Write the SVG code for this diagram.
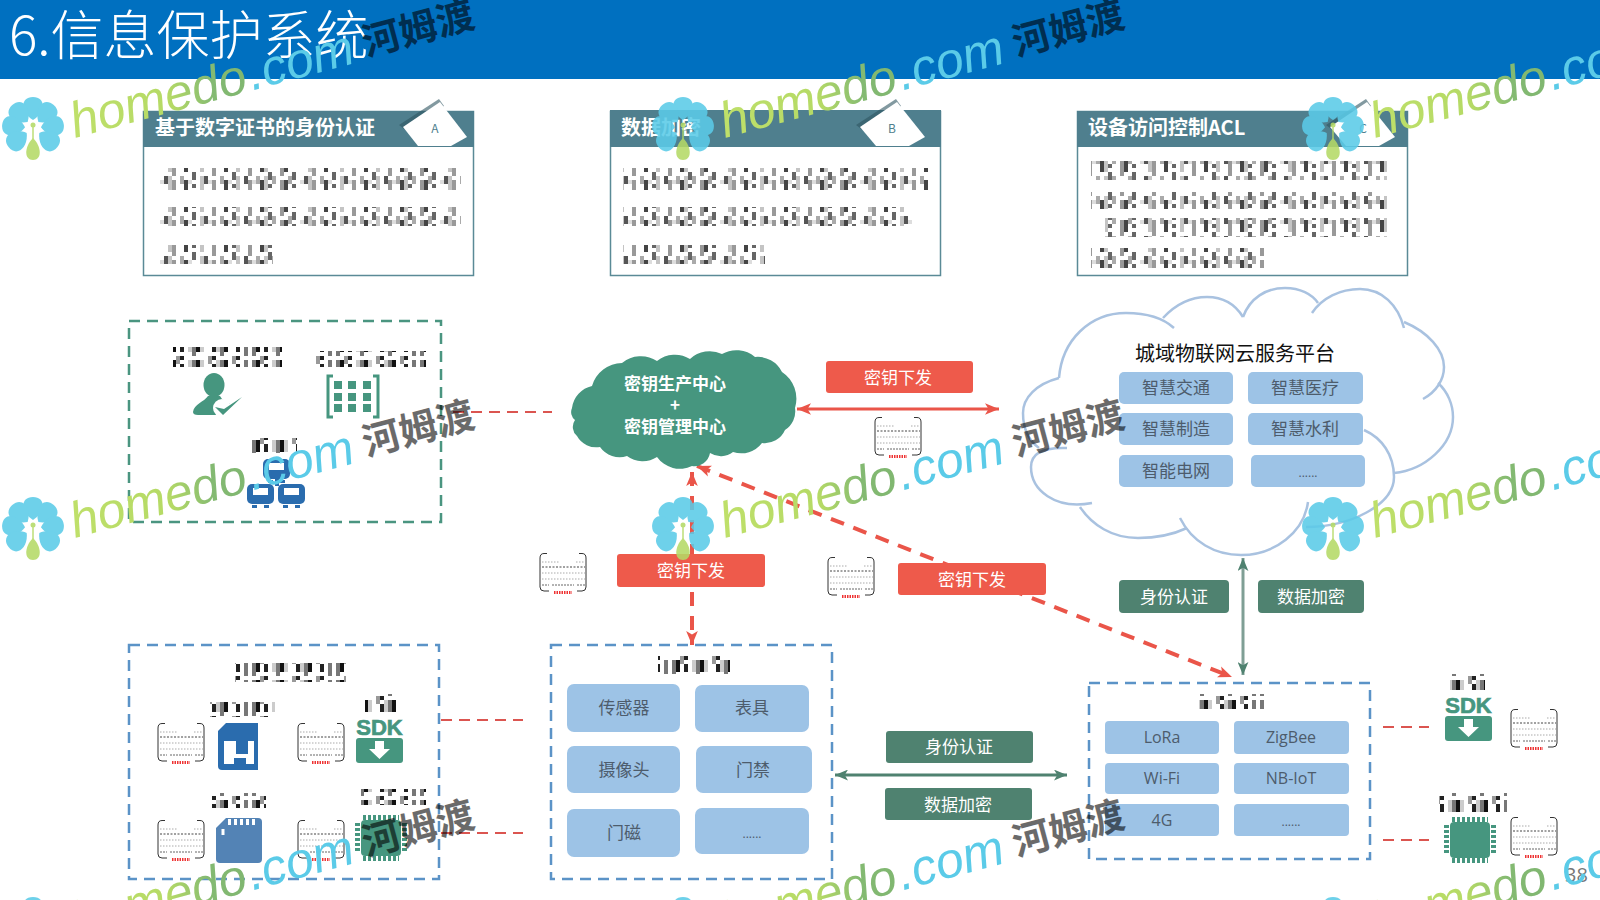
<svg xmlns="http://www.w3.org/2000/svg" width="1600" height="900" viewBox="0 0 1600 900">
<style>
text{font-family:"Noto Sans CJK SC","Liberation Sans",sans-serif}
.mid{text-anchor:middle}
.title{font-size:53px;font-weight:300;fill:#fff}
.chead{font-size:20px;font-weight:700;fill:#fff}
.badge{font-size:12px;fill:#4f7f8e;text-anchor:middle}
.cbox{fill:#fff;stroke:#5a8a96;stroke-width:1.5}
.chdr{fill:#4f7f8e}
.bshadow{fill:#2f5560;opacity:.6}
.bt{font-size:17px;fill:#fff;text-anchor:middle}
.red{fill:#ee5a4b}
.grn{fill:#4f8270}
.tile{fill:#9dc3e6}
.tt{font-size:17px;fill:#4d5c6c;text-anchor:middle}
.lat{font-size:16px;fill:#4d5c6c;text-anchor:middle;font-family:"Open Sans","Noto Sans",sans-serif}
.dg{fill:none;stroke:#4a9580;stroke-width:2.5;stroke-dasharray:11 7}
.db{fill:none;stroke:#5b93c7;stroke-width:2.5;stroke-dasharray:11 7}
.rd{fill:none;stroke:#db5550;stroke-width:2;stroke-dasharray:11 7}
.rdt{fill:none;stroke:#ea5549;stroke-width:4;stroke-dasharray:14 10}
.gi{fill:#46967f}
.bi{fill:#2a6cae}
.cl{fill:none;stroke:#a9c2e0;stroke-width:2.5}
</style>
<defs>
<marker id="ar" viewBox="0 0 12 10" refX="12" refY="5" markerWidth="14" markerHeight="12" markerUnits="userSpaceOnUse" orient="auto-start-reverse"><path d="M0 0L12 5L0 10L3 5z" fill="#ea5549"/></marker>
<marker id="ag" viewBox="0 0 12 10" refX="12" refY="5" markerWidth="13" markerHeight="11" markerUnits="userSpaceOnUse" orient="auto-start-reverse"><path d="M0 0L12 5L0 10L3 5z" fill="#4f8270"/></marker>
<pattern id="m1" width="140" height="20" patternUnits="userSpaceOnUse"><g fill="none" stroke-width="4">
<path d="M6 0V20M46 0V20M86 0V20M122 0V20" stroke="#444" stroke-dasharray="12 8"/>
<path d="M26 0V20M66 0V20M106 0V20" stroke="#555" stroke-dasharray="4 12 4"/>
<path d="M14 0V20M54 0V20M94 0V20M130 0V20" stroke="#666" stroke-dasharray="8 4 4 4" stroke-dashoffset="8"/>
<path d="M2 0V20M34 0V20M74 0V20M110 0V20" stroke="#999" stroke-dasharray="16 4"/>
<path d="M10 0V20M42 0V20M82 0V20M118 0V20M134 0V20" stroke="#aaa" stroke-dasharray="8 12" stroke-dashoffset="4"/>
<path d="M30 0V20M62 0V20M98 0V20M126 0V20" stroke="#c4c4c4" stroke-dasharray="12 4 4"/>
<path d="M22 0V20M50 0V20M70 0V20M90 0V20M114 0V20" stroke="#ddd" stroke-dasharray="4 16"/>
</g></pattern>
<pattern id="m2" width="84" height="20" patternUnits="userSpaceOnUse"><g fill="none" stroke-width="4">
<path d="M6 0V20M30 0V20M58 0V20" stroke="#111" stroke-dasharray="12 8"/>
<path d="M14 0V20M46 0V20M70 0V20" stroke="#222" stroke-dasharray="4 4 8 4" stroke-dashoffset="4"/>
<path d="M2 0V20M26 0V20M54 0V20M78 0V20" stroke="#777" stroke-dasharray="16 4"/>
<path d="M10 0V20M42 0V20M66 0V20" stroke="#999" stroke-dasharray="8 12" stroke-dashoffset="4"/>
<path d="M22 0V20M34 0V20M50 0V20" stroke="#ccc" stroke-dasharray="12 8"/>
</g></pattern>
<g id="key">
<path d="M8 .5H5Q1 .5 1 5V34Q1 38 5 38H10M40 .5H43Q47 .5 47 5V34Q47 38 43 38H38" fill="none" stroke="#333" stroke-width="1"/>
<path d="M3 9H20M37 9H46M3 20H46M3 26H46" stroke="#aaa" stroke-width="1" stroke-dasharray="1.5 1.5"/>
<path d="M3 14H46" stroke="#444" stroke-width="1" stroke-dasharray="2 1.5"/>
<path d="M3 32H10M13 32H35M38 32H46" stroke="#666" stroke-width="1" stroke-dasharray="2 1"/>
<path d="M15 39.5H33" stroke="#e33" stroke-width="3" stroke-dasharray="1.500 1"/>
</g>
<g id="sdk">
<text x="23.500" y="18" text-anchor="middle" style="font-family:'Liberation Sans',sans-serif;font-size:22px;font-weight:700" fill="#46967f" stroke="#46967f" stroke-width=".7">SDK</text>
<rect y="21" width="47" height="25" rx="3" class="gi"/>
<path d="M19 24H28V32H34L23.500 42L13 32H19z" fill="#fff"/>
</g>
<g id="chip">
<rect x="6" y="5" width="40" height="36" rx="4" class="gi"/>
<path d="M8 2.500H44M8 43.500H44" stroke="#46967f" stroke-width="5" stroke-dasharray="3 2"/>
<path d="M2.500 8V38M49.500 8V38" stroke="#46967f" stroke-width="5" stroke-dasharray="3 2"/>
</g>
<g id="mon">
<rect width="27" height="20" rx="5" class="bi"/>
<rect x="6" y="4" width="15" height="7" fill="#fff"/>
<path d="M5 21h5v3h-5zM17 21h5v3h-5z" class="bi"/>
</g>
<linearGradient id="wg" gradientUnits="userSpaceOnUse" x1="0" y1="0" x2="185" y2="0">
<stop offset="0" stop-color="#bfe06a"/><stop offset=".55" stop-color="#b5da66"/><stop offset=".78" stop-color="#84ba72"/><stop offset="1" stop-color="#7fb670"/>
</linearGradient>
<path id="pet" d="M0-8C-13-16-13-31 0-31C13-31 13-16 0-8z" fill="#5bcbe8"/>
<g id="wm">
<g opacity=".88">
<use href="#pet"/><use href="#pet" transform="rotate(42)"/><use href="#pet" transform="rotate(84)"/><use href="#pet" transform="rotate(128)"/><use href="#pet" transform="rotate(-42)"/><use href="#pet" transform="rotate(-84)"/><use href="#pet" transform="rotate(-128)"/>
<path d="M0 10C-9 19-9 32 0 32C9 32 9 19 0 10z" fill="#b5da66"/>
<path d="M0-3V12" stroke="#b5da66" stroke-width="1.500"/><circle cy="-3" r="2.500" fill="#b5da66"/>
</g>
<text transform="translate(42 10) rotate(-15)" style="font-family:'Liberation Sans',sans-serif;font-style:italic;font-size:50px"><tspan fill="url(#wg)">homedo</tspan><tspan dx="3" fill="#5bcbe8">.com</tspan></text>
<text transform="translate(385 -100) rotate(-15)" y="14" text-anchor="middle" style="font-size:38px;font-weight:700" fill="#000" opacity=".58">河姆渡</text>
</g>
</defs>

<rect width="1600" height="900" fill="#fff"/>
<g id="header">
<rect width="1600" height="79" fill="#0070c0"/>
<text x="9" y="55" class="title">6.信息保护系统</text>
</g>

<g id="connectors">
<path class="rd" d="M453 412H552"/>
<path class="rd" d="M441 720H523"/>
<path class="rd" d="M441 833H523"/>
<path class="rd" d="M1383 727H1429"/>
<path class="rd" d="M1383 840H1429"/>
<path d="M797 409H999" stroke="#ea5549" stroke-width="3" fill="none" marker-start="url(#ar)" marker-end="url(#ar)"/>
<path class="rdt" d="M692 472V645" marker-start="url(#ar)" marker-end="url(#ar)"/>
<path class="rdt" d="M697 466L1232 677" marker-start="url(#ar)" marker-end="url(#ar)"/>
<path d="M1243 558V675" stroke="#7f9f95" stroke-width="3" fill="none" marker-start="url(#ag)" marker-end="url(#ag)"/>
<path d="M835 775H1067" stroke="#4f8270" stroke-width="3" fill="none" marker-start="url(#ag)" marker-end="url(#ag)"/>
</g>

<g id="card-a">
<rect class="cbox" x="143.500" y="111.500" width="330" height="164"/>
<rect class="chdr" x="143" y="111" width="331" height="36"/>
<text x="155" y="135" class="chead">基于数字证书的身份认证</text>
<path class="bshadow" d="M399 125L439 99L444 106L408 132z"/>
<path d="M403 127L440 102L467 137L451 146H418z" fill="#fff"/>
<text x="435" y="133" class="badge">A</text>
<rect x="156" y="168" width="305" height="22" fill="url(#m1)"/>
<rect x="156" y="207" width="305" height="19" fill="url(#m1)"/>
<rect x="156" y="245" width="117" height="19" fill="url(#m1)"/>
</g>
<g id="card-b">
<rect class="cbox" x="610.500" y="111.500" width="330" height="164"/>
<rect class="chdr" x="610" y="110" width="331" height="37"/>
<text x="621" y="135" class="chead">数据加密</text>
<path class="bshadow" d="M856 125L896 99L901 106L865 132z"/>
<path d="M860 127L897 102L925 137L909 146H876z" fill="#fff"/>
<text x="892" y="133" class="badge">B</text>
<rect x="623" y="168" width="305" height="22" fill="url(#m1)"/>
<rect x="623" y="207" width="289" height="19" fill="url(#m1)"/>
<rect x="623" y="245" width="142" height="19" fill="url(#m1)"/>
</g>
<g id="card-c">
<rect class="cbox" x="1077.500" y="111.500" width="330" height="164"/>
<rect class="chdr" x="1077" y="111" width="331" height="36"/>
<text x="1088" y="135" class="chead">设备访问控制ACL</text>
<path class="bshadow" d="M1326 125L1366 99L1371 106L1335 132z"/>
<path d="M1330 127L1367 102L1395 137L1379 146H1346z" fill="#fff"/>
<text x="1363" y="133" class="badge">C</text>
<rect x="1091" y="161" width="296" height="19" fill="url(#m1)"/>
<rect x="1091" y="192" width="296" height="17" fill="url(#m1)"/>
<rect x="1105" y="218" width="282" height="19" fill="url(#m1)"/>
<rect x="1091" y="248" width="173" height="20" fill="url(#m1)"/>
</g>

<g id="auth-box">
<rect class="dg" x="129" y="321" width="312" height="201"/>
<rect x="173" y="347" width="109" height="20" fill="url(#m2)"/>
<rect x="316" y="351" width="110" height="16" fill="url(#m2)"/>
<rect x="250" y="438" width="47" height="15" fill="url(#m2)"/>
<g id="person-icon">
<ellipse cx="214" cy="385" rx="10.500" ry="12" class="gi"/>
<path d="M193 412C194 404 204 402 208 396H220C222 400 226 402 230 404L222 415H198Q193 415 193 412z" class="gi"/>
<circle cx="222" cy="408" r="9" fill="#fff"/>
<path d="M215 407L223 415L242 397L224 409z" class="gi"/>
</g>
<g id="bracket-icon">
<path d="M333 376H328V417H333M373 376H378V417H373" fill="none" stroke="#46967f" stroke-width="3"/>
<path d="M334 381h8v8h-8zM348 381h8v8h-8zM363 381h8v8h-8zM334 393h8v8h-8zM348 393h8v8h-8zM363 393h8v8h-8zM334 404h8v8h-8zM348 404h8v8h-8zM363 404h8v8h-8z" class="gi"/>
</g>
<g id="network-icon">
<use href="#mon" x="263" y="459"/>
<path d="M277 478V486" stroke="#2a6cae" stroke-width="4"/>
<use href="#mon" x="247" y="484"/>
<use href="#mon" x="278" y="484"/>
</g>
</g>

<g id="key-center">
<path class="gi" d="M572 408A26 26 0 0 1 592 386A32 32 0 0 1 622 363A30 30 0 0 1 657 361A29 29 0 0 1 690 359A29 29 0 0 1 722 354A29 29 0 0 1 755 357A27 27 0 0 1 782 372A32 32 0 0 1 795 408A22 22 0 0 1 785 430A22 22 0 0 1 762 443A26 26 0 0 1 733 452A20 20 0 0 1 710 453A16 16 0 0 1 692 466A28 28 0 0 1 657 457A26 26 0 0 1 627 456A24 24 0 0 1 600 447A22 22 0 0 1 577 436A12 12 0 0 1 575 420A10 10 0 0 1 572 408z"/>
<text x="675" y="390" class="bt" style="font-weight:700">密钥生产中心</text>
<text x="675" y="411" class="bt" style="font-weight:700">+</text>
<text x="675" y="433" class="bt" style="font-weight:700">密钥管理中心</text>
</g>

<g id="label-key-1"><rect class="red" x="826" y="361" width="147" height="32" rx="3"/><text x="898" y="384" class="bt">密钥下发</text></g>
<g id="label-key-2"><rect class="red" x="617" y="554" width="148" height="33" rx="3"/><text x="691" y="577" class="bt">密钥下发</text></g>
<g id="label-key-3"><rect class="red" x="898" y="563" width="148" height="32" rx="3"/><text x="972" y="586" class="bt">密钥下发</text></g>

<g id="keys">
<use href="#key" x="874" y="417"/><use href="#key" x="539" y="553"/><use href="#key" x="827" y="557"/>
<use href="#key" x="157" y="723"/><use href="#key" x="297" y="723"/><use href="#key" x="157" y="820"/><use href="#key" x="297" y="820"/>
<use href="#key" x="1510" y="709"/><use href="#key" x="1510" y="817"/>
</g>

<g id="cloud-platform">
<path fill="#fff" d="M1059 378C1062 340 1090 313 1126 313C1140 313 1155 316 1168 322C1175 305 1190 297 1207 297C1222 297 1235 304 1243 317C1250 298 1266 288 1285 288C1300 288 1312 294 1318 303C1328 294 1343 289 1360 289C1380 289 1398 305 1404 325C1428 335 1444 352 1444 367C1444 372 1443 378 1438 383C1448 392 1453 405 1453 417C1453 445 1425 470 1394 473C1394 505 1350 527 1306 527C1292 545 1268 555 1241 555C1218 555 1198 545 1187 528C1172 535 1155 538 1138 538C1112 538 1092 525 1080 507C1050 505 1031 490 1031 467C1031 458 1034 453 1039 448C1028 440 1023 428 1023 413C1023 398 1036 384 1059 378z"/>
<path class="cl" d="M1059 378C1062 340 1090 313 1126 313C1145 313 1163 318 1174 328"/>
<path class="cl" d="M1163 318C1175 305 1190 297 1207 297C1222 297 1235 304 1243 317"/>
<path class="cl" d="M1243 317C1250 298 1266 288 1285 288C1300 288 1312 294 1318 303"/>
<path class="cl" d="M1312 313C1322 298 1340 289 1360 289C1382 289 1398 305 1404 328"/>
<path class="cl" d="M1404 322C1428 332 1444 350 1444 367C1444 380 1436 392 1423 399"/>
<path class="cl" d="M1438 383C1448 392 1453 405 1453 417C1453 445 1425 470 1394 473"/>
<path class="cl" d="M1364 430C1382 438 1394 455 1394 477C1394 505 1350 527 1306 527"/>
<path class="cl" d="M1308 502C1304 532 1275 555 1241 555C1215 555 1192 542 1180 518"/>
<path class="cl" d="M1187 528C1172 535 1155 538 1138 538C1112 538 1092 525 1080 507"/>
<path class="cl" d="M1092 503C1055 510 1031 490 1031 467C1031 455 1040 447 1067 448"/>
<path class="cl" d="M1039 448C1028 440 1023 428 1023 413C1023 398 1036 384 1059 378"/>
<text x="1235" y="361" class="mid" style="font-size:20px" fill="#111">城域物联网云服务平台</text>
<rect class="tile" x="1119" y="372" width="114" height="32" rx="5"/><text x="1176" y="394" class="tt">智慧交通</text>
<rect class="tile" x="1248" y="372" width="115" height="32" rx="5"/><text x="1305" y="394" class="tt">智慧医疗</text>
<rect class="tile" x="1119" y="413" width="114" height="32" rx="5"/><text x="1176" y="435" class="tt">智慧制造</text>
<rect class="tile" x="1248" y="413" width="115" height="32" rx="5"/><text x="1305" y="435" class="tt">智慧水利</text>
<rect class="tile" x="1119" y="455" width="114" height="32" rx="5"/><text x="1176" y="477" class="tt">智能电网</text>
<rect class="tile" x="1251" y="455" width="114" height="32" rx="5"/><text x="1308" y="477" class="lat" style="font-size:12px">......</text>
</g>

<g id="label-auth-1"><rect class="grn" x="1119" y="580" width="110" height="33" rx="4"/><text x="1174" y="603" class="bt">身份认证</text></g>
<g id="label-enc-1"><rect class="grn" x="1258" y="580" width="106" height="33" rx="4"/><text x="1311" y="603" class="bt">数据加密</text></g>
<g id="label-auth-2"><rect class="grn" x="886" y="731" width="147" height="32" rx="3"/><text x="959" y="753" class="bt">身份认证</text></g>
<g id="label-enc-2"><rect class="grn" x="885" y="788" width="147" height="32" rx="3"/><text x="958" y="811" class="bt">数据加密</text></g>

<g id="security-box">
<rect class="db" x="129" y="645" width="310" height="234"/>
<rect x="235" y="663" width="111" height="19" fill="url(#m2)"/>
<rect x="210" y="702" width="65" height="15" fill="url(#m2)"/>
<rect x="365" y="694" width="34" height="18" fill="url(#m2)"/>
<rect x="212" y="793" width="54" height="15" fill="url(#m2)"/>
<rect x="361" y="789" width="65" height="16" fill="url(#m2)"/>
<g id="sim-icon">
<path d="M226 723H258V770H222Q218 770 218 766V731z" class="bi"/>
<path d="M224 741H236V754H248V741H254V764H246V758H234V764H224z" fill="#fff"/>
</g>
<use href="#sdk" x="356" y="717"/>
<g id="sd-icon">
<path d="M226 818H258Q262 818 262 822V859Q262 863 258 863H220Q216 863 216 859V828z" fill="#5383b5"/>
<path d="M228 822H258" stroke="#fff" stroke-width="6" stroke-dasharray="3 3"/>
<path d="M223 829v6" stroke="#fff" stroke-width="3"/>
</g>
<use href="#chip" x="355" y="815"/>
</g>

<g id="device-box">
<rect class="db" x="551" y="645" width="281" height="234"/>
<rect x="658" y="656" width="72" height="18" fill="url(#m2)"/>
<rect class="tile" x="567" y="684" width="113" height="48" rx="7"/><text x="624" y="714" class="tt">传感器</text>
<rect class="tile" x="695" y="685" width="114" height="47" rx="7"/><text x="752" y="714" class="tt">表具</text>
<rect class="tile" x="567" y="746" width="113" height="47" rx="7"/><text x="624" y="776" class="tt">摄像头</text>
<rect class="tile" x="696" y="746" width="116" height="47" rx="7"/><text x="753" y="776" class="tt">门禁</text>
<rect class="tile" x="567" y="809" width="113" height="48" rx="7"/><text x="624" y="839" class="tt">门磁</text>
<rect class="tile" x="695" y="808" width="114" height="46" rx="7"/><text x="752" y="838" class="lat" style="font-size:12px">......</text>
</g>

<g id="network-box">
<rect class="db" x="1089" y="683" width="281" height="176"/>
<rect x="1199" y="694" width="65" height="15" fill="url(#m2)"/>
<rect class="tile" x="1105" y="721" width="114" height="33" rx="4"/><text x="1162" y="743" class="lat">LoRa</text>
<rect class="tile" x="1234" y="721" width="115" height="33" rx="4"/><text x="1291" y="743" class="lat">ZigBee</text>
<rect class="tile" x="1105" y="763" width="114" height="31" rx="4"/><text x="1162" y="784" class="lat">Wi-Fi</text>
<rect class="tile" x="1234" y="763" width="115" height="31" rx="4"/><text x="1291" y="784" class="lat">NB-IoT</text>
<rect class="tile" x="1105" y="804" width="114" height="32" rx="4"/><text x="1162" y="826" class="lat">4G</text>
<rect class="tile" x="1234" y="804" width="115" height="32" rx="4"/><text x="1291" y="826" class="lat" style="font-size:12px">......</text>
</g>

<g id="right-sdk">
<rect x="1450" y="674" width="35" height="16" fill="url(#m2)"/>
<use href="#sdk" x="1445" y="695"/>
</g>
<g id="right-chip">
<rect x="1439" y="793" width="68" height="19" fill="url(#m2)"/>
<use href="#chip" x="1444" y="817"/>
</g>

<text id="page" x="1565" y="882" style="font-size:20px;font-family:'Open Sans',sans-serif" fill="#777">38</text>

<g id="watermarks">
<use href="#wm" x="33" y="128"/><use href="#wm" x="683" y="128"/><use href="#wm" x="1333" y="128"/>
<use href="#wm" x="33" y="528"/><use href="#wm" x="683" y="528"/><use href="#wm" x="1333" y="528"/>
<use href="#wm" x="33" y="928"/><use href="#wm" x="683" y="928"/><use href="#wm" x="1333" y="928"/>
</g>
</svg>
